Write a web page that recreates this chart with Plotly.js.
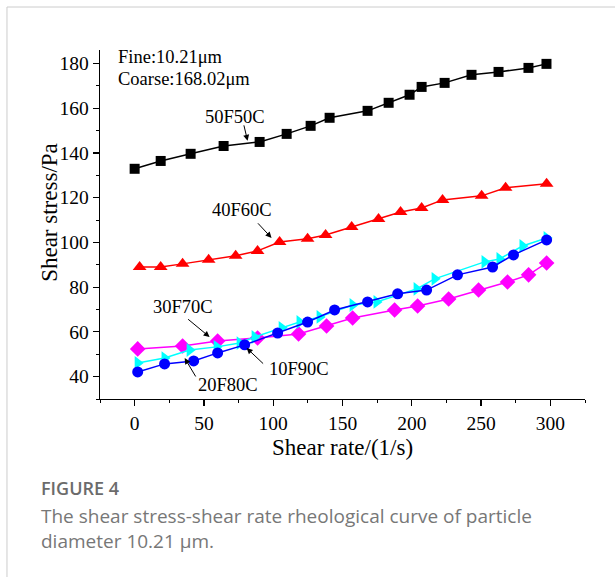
<!DOCTYPE html>
<html>
<head>
<meta charset="utf-8">
<script src="https://cdn.plot.ly/plotly-3.0.1.min.js"></script>
<style>
  html, body { margin: 0; padding: 0; background: #fff; }
  #chart { width: 615px; height: 577px; }
</style>
</head>
<body>
<div id="chart"></div>
<script>
// 50F50C (black squares)
const x50F50C = [0, 18.8, 40.4, 64.2, 90.2, 109.7, 127.0, 140.7, 168.1, 183.3, 198.4, 207.1, 223.7, 243.1, 262.6, 284.2, 297.2];
const y50F50C = [132.9, 136.4, 139.6, 143.1, 144.9, 148.5, 152.1, 155.7, 158.8, 162.4, 166.0, 169.5, 171.3, 174.9, 176.2, 178.0, 179.8];
// 40F60C (red triangles)
const x40F60C = [3.6, 18.8, 34.6, 53.4, 72.9, 88.7, 104.6, 124.8, 137.8, 156.6, 176.0, 191.9, 207.1, 222.2, 250.4, 267.7, 297.3];
const y40F60C = [89.0, 89.0, 90.4, 92.2, 94.0, 96.2, 100.2, 101.6, 103.3, 106.9, 110.5, 113.6, 115.4, 119.0, 120.8, 124.4, 126.2];
// 30F70C (magenta diamonds)
const x30F70C = [2.2, 34.6, 59.9, 88.7, 118.3, 138.5, 157.3, 187.6, 204.2, 226.6, 248.2, 269.1, 284.3, 297.3];
const y30F70C = [52.4, 53.7, 55.9, 57.3, 59.1, 62.6, 66.2, 69.8, 71.6, 74.7, 78.7, 82.3, 85.5, 90.8];
// 20F80C (cyan right triangles)
const x20F80C = [2.2, 21.6, 39.7, 59.2, 75.8, 86.6, 106.1, 119.0, 133.5, 157.3, 174.6, 203.5, 216.5, 252.5, 263.3, 279.9, 297.3];
const y20F80C = [46.1, 48.3, 51.9, 53.3, 55.0, 57.7, 61.8, 64.4, 66.7, 72.0, 73.4, 79.2, 83.7, 91.3, 92.6, 98.4, 102.0];
// 10F90C (blue circles)
const x10F90C = [2.2, 21.6, 42.6, 59.9, 79.4, 103.2, 124.8, 144.3, 168.1, 189.8, 210.7, 233.0, 258.3, 273.4, 297.3];
const y10F90C = [42.1, 45.7, 47.0, 50.6, 54.2, 59.5, 64.4, 69.8, 73.4, 77.0, 78.7, 85.5, 89.0, 94.4, 101.1];

const xTickVals = [0, 50, 100, 150, 200, 250, 300];
const yTickVals = [40, 60, 80, 100, 120, 140, 160, 180];

const serif = 'Liberation Serif, Times New Roman, serif';
const sans = 'Open Sans, Noto Sans, sans-serif';

function series(x, y, color, symbol, size) {
  return {
    x: x, y: y, type: 'scatter', mode: 'lines+markers',
    line: { color: color, width: 1.5 },
    marker: { color: color, symbol: symbol, size: size, line: { width: 0 } },
    showlegend: false, hoverinfo: 'skip'
  };
}

const data = [
  series(x50F50C, y50F50C, '#000000', 'square', 10),
  series(x40F60C, y40F60C, '#ff0000', 'triangle-up', 12),
  series(x30F70C, y30F70C, '#ff00ff', 'diamond', 12),
  series(x20F80C, y20F80C, '#00ffff', 'triangle-right', 12),
  series(x10F90C, y10F90C, '#0000ff', 'circle', 11)
];

function label(text, x, y, anchor) {
  return { text: text, x: x, y: y, xref: 'x', yref: 'y', showarrow: false,
    xanchor: anchor || 'center', yanchor: 'middle',
    font: { family: serif, size: 18.5, color: '#000' } };
}
function arrow(x0, y0, x1, y1) {
  return { text: '', x: x1, y: y1, ax: x0, ay: y0, xref: 'x', yref: 'y',
    axref: 'x', ayref: 'y', showarrow: true, arrowhead: 2, arrowsize: 1.2,
    arrowwidth: 1, arrowcolor: '#000', standoff: 0, startstandoff: 0 };
}

const annotations = [
  label('Fine:10.21\u03bcm', -13.5, 183.0, 'left'),
  label('Coarse:168.02\u03bcm', -13.5, 173.1, 'left'),
  label('50F50C', 72.2, 156.1),
  arrow(78.6, 153.0, 81.5, 145.4),
  label('40F60C', 77.2, 114.5),
  arrow(88.0, 109.2, 98.8, 102.0),
  label('30F70C', 34.6, 71.1),
  arrow(37.5, 66.2, 54.1, 57.7),
  label('10F90C', 118.5, 43.4),
  arrow(93.8, 45.2, 80.8, 52.8),
  label('20F80C', 67.1, 36.3),
  arrow(44.7, 39.4, 36.1, 48.3),
  // y axis title
  { text: 'Shear stress/Pa', xref: 'paper', yref: 'paper', x: -0.104, y: 0.535,
    xanchor: 'center', yanchor: 'middle', textangle: -90, showarrow: false,
    font: { family: serif, size: 23, color: '#000' } },
  // caption
  { text: 'FIGURE 4', xref: 'paper', yref: 'paper', x: -0.125, y: -0.256,
    xanchor: 'left', yanchor: 'middle', showarrow: false,
    font: { family: sans, size: 18, color: '#6b6b6b', weight: 600 } },
  { text: 'The shear stress-shear rate rheological curve of particle', xref: 'paper', yref: 'paper',
    x: -0.125, y: -0.336, xanchor: 'left', yanchor: 'middle', showarrow: false,
    font: { family: sans, size: 19, color: '#777777' } },
  { text: 'diameter 10.21 \u03bcm.', xref: 'paper', yref: 'paper',
    x: -0.125, y: -0.408, xanchor: 'left', yanchor: 'middle', showarrow: false,
    font: { family: sans, size: 19, color: '#777777' } }
];

const layout = {
  width: 615, height: 577,
  margin: { l: 100, r: 30, t: 50, b: 178 },
  paper_bgcolor: '#ffffff', plot_bgcolor: '#ffffff',
  showlegend: false,
  xaxis: {
    range: [-25, 325], tickvals: xTickVals, ticktext: xTickVals.map(String),
    ticks: 'outside', ticklen: 6, tickwidth: 1.2, tickcolor: '#000',
    minor: { dtick: 25, tick0: 0, ticks: 'outside', ticklen: 3, tickwidth: 1, tickcolor: '#000', showgrid: false },
    showline: true, linecolor: '#000', linewidth: 1.3, showgrid: false, zeroline: false,
    tickfont: { family: serif, size: 19.5, color: '#000' },
    title: { text: 'Shear rate/(1/s)', font: { family: serif, size: 23, color: '#000' }, standoff: 6 }
  },
  yaxis: {
    range: [30, 186], tickvals: yTickVals, ticktext: yTickVals.map(String),
    ticks: 'outside', ticklen: 6, tickwidth: 1.2, tickcolor: '#000',
    minor: { dtick: 10, tick0: 0, ticks: 'outside', ticklen: 3, tickwidth: 1, tickcolor: '#000', showgrid: false },
    showline: true, linecolor: '#000', linewidth: 1.3, showgrid: false, zeroline: false,
    tickfont: { family: serif, size: 19.5, color: '#000' }
  },
  shapes: [
    { type: 'line', xref: 'paper', yref: 'paper', x0: -0.1918, x1: -0.1918, y0: -1.2, y1: 1.1232,
      line: { color: '#cccccc', width: 1 } },
    { type: 'line', xref: 'paper', yref: 'paper', x0: -0.1918, x1: 1.2, y0: 1.1232, y1: 1.1232,
      line: { color: '#cccccc', width: 1 } }
  ],
  annotations: annotations
};

Plotly.newPlot('chart', data, layout, { displayModeBar: false, staticPlot: true });
</script>
</body>
</html>
